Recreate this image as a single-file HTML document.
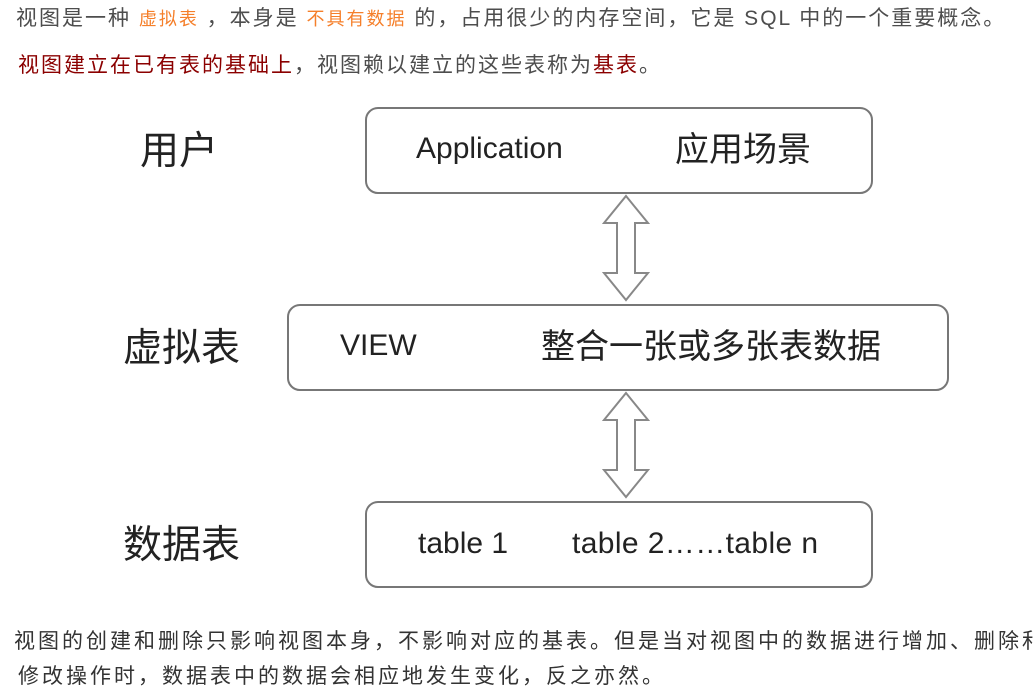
<!DOCTYPE html>
<html><head><meta charset="utf-8"><style>
body{margin:0;width:1033px;height:690px;background:#fff;overflow:hidden;position:relative;font-family:"Liberation Sans","Noto Sans CJK SC",sans-serif}
.t{position:absolute;white-space:nowrap;font-size:21px;color:#4d4d4d;letter-spacing:2px}
.o{color:#f57f2a;font-size:18px}
.r{color:#8b0000}
</style></head><body>
<div class="t" style="left:16px;top:2px">视图是一种 <span class="o">虚拟表</span> ，本身是 <span class="o">不具有数据</span> 的，占用很少的内存空间，它是 SQL 中的一个重要概念。</div>
<div class="t" style="left:18px;top:49px"><span class="r">视图建立在已有表的基础上</span>，视图赖以建立的这些表称为<span class="r">基表</span>。</div>
<svg width="1033" height="690" style="position:absolute;left:0;top:0" font-family="Liberation Sans,Noto Sans CJK SC,sans-serif">
<g fill="none" stroke="#777" stroke-width="2">
<rect x="366" y="108" width="506" height="85" rx="12"/>
<rect x="288" y="305" width="660" height="85" rx="12"/>
<rect x="366" y="502" width="506" height="85" rx="12"/>
<path d="M626 196 L648 223 L635 223 L635 273 L648 273 L626 300 L604 273 L617 273 L617 223 L604 223 Z" stroke="#888"/>
<path d="M626 393 L648 420 L635 420 L635 470 L648 470 L626 497 L604 470 L617 470 L617 420 L604 420 Z" stroke="#888"/>
</g>
<g fill="#222" font-size="39">
<text x="140" y="164">用户</text>
<text x="123" y="361">虚拟表</text>
<text x="123" y="558">数据表</text>
</g>
<g fill="#222" font-size="30">
<text x="416" y="158">Application</text>
<text x="340" y="355">VIEW</text>
<text x="418" y="553">table 1</text>
<text x="572" y="553" textLength="246">table 2……table n</text>
</g>
<g fill="#222" font-size="34">
<text x="675" y="161">应用场景</text>
<text x="541" y="358">整合一张或多张表数据</text>
</g>
</svg>
<div class="t" style="left:14px;top:625px;color:#333;letter-spacing:3px">视图的创建和删除只影响视图本身，不影响对应的基表。但是当对视图中的数据进行增加、删除和</div>
<div class="t" style="left:18px;top:660px;color:#333;letter-spacing:3px">修改操作时，数据表中的数据会相应地发生变化，反之亦然。</div>
</body></html>
